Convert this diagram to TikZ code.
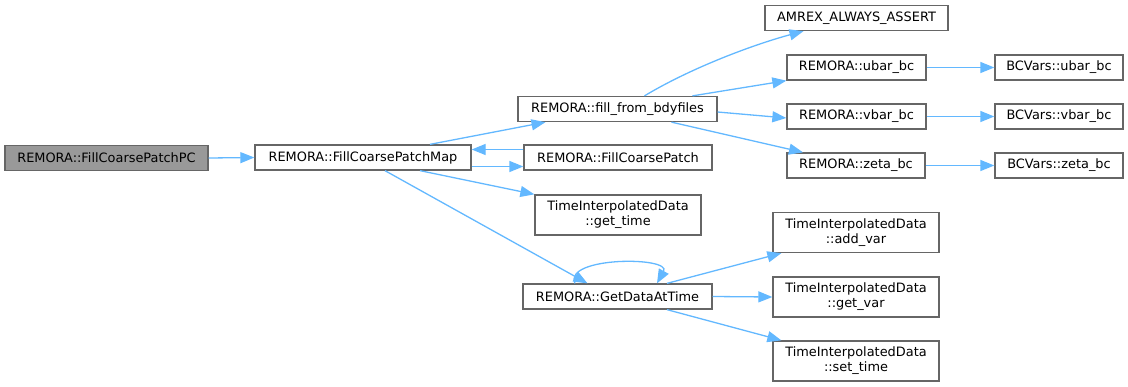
\documentclass[tikz,border=0pt]{standalone}
\usepackage{fontspec}
\setmainfont{DejaVu Sans}
\usetikzlibrary{arrows.meta,calc}
\definecolor{edgeblue}{HTML}{63B8FF}
\definecolor{boxborder}{HTML}{666666}
\definecolor{boxfill}{HTML}{999999}
\tikzset{
  fbox/.style={draw=boxborder, line width=1.3pt, fill=white, inner sep=0pt,
    minimum height=25pt, align=center, font=\fontsize{12.9}{15}\selectfont},
  tbox/.style={fbox, minimum height=40pt},
  conn/.style={draw=edgeblue, line width=1.3pt, -{Triangle[length=14pt,width=11pt]}}
}
\begin{document}
\begin{tikzpicture}[x=1pt,y=-1pt]
\useasboundingbox (0,0) rectangle (1128,386);
\node[fbox, fill=boxfill, minimum width=203pt] (pc) at (106.5,158) {REMORA::FillCoarsePatchPC};
\node[fbox, minimum width=216pt] (map) at (363,157.5) {REMORA::FillCoarsePatchMap};
\node[fbox, minimum width=199pt] (fill) at (617.5,109) {REMORA::fill\_from\_bdyfiles};
\node[fbox, minimum width=188pt] (fcp) at (618,157.5) {REMORA::FillCoarsePatch};
\node[tbox, minimum width=166pt] (gettime) at (618,215) {TimeInterpolatedData\\::get\_time};
\node[fbox, minimum width=189pt] (gdat) at (617.5,296.5) {REMORA::GetDataAtTime};
\node[fbox, minimum width=183pt] (amrex) at (856.5,18) {AMREX\_ALWAYS\_ASSERT};
\node[fbox, minimum width=139pt] (ubar) at (856.5,67.5) {REMORA::ubar\_bc};
\node[fbox, minimum width=139pt] (vbar) at (856.5,116.5) {REMORA::vbar\_bc};
\node[fbox, minimum width=138pt] (zeta) at (856,165.5) {REMORA::zeta\_bc};
\node[fbox, minimum width=128pt] (bcu) at (1059,67.5) {BCVars::ubar\_bc};
\node[fbox, minimum width=128pt] (bcv) at (1059,116.5) {BCVars::vbar\_bc};
\node[fbox, minimum width=128pt] (bcz) at (1059,165.5) {BCVars::zeta\_bc};
\node[tbox, minimum width=166pt] (addvar) at (856,232.5) {TimeInterpolatedData\\::add\_var};
\node[tbox, minimum width=166pt] (getvar) at (856,297) {TimeInterpolatedData\\::get\_var};
\node[tbox, minimum width=166pt] (settime) at (856,361) {TimeInterpolatedData\\::set\_time};

\draw[conn] (pc.east) -- (map.west);
\draw[conn] ([xshift=67pt]map.north) -- ([xshift=-72pt]fill.south);
\draw[conn] ([yshift=8pt]fcp.west) -- ([yshift=8pt]map.east);
\draw[conn] ([yshift=-9pt]map.east) -- ([yshift=-9pt]fcp.west);
\draw[conn] ([xshift=57pt]map.south) -- (gettime.north west);
\draw[conn] ([xshift=22pt]map.south) -- ([xshift=-30pt]gdat.north);
\draw[conn] ([xshift=27pt]fill.north) .. controls +(50,-30) and +(-45,12) .. ([xshift=-53pt]amrex.south);
\draw[conn] ([xshift=75pt]fill.north) -- (ubar.south west);
\draw[conn] ([yshift=-3pt]fill.east) -- ([yshift=-1.5pt]vbar.west);
\draw[conn] ([xshift=54pt]fill.south) -- ([xshift=-53pt]zeta.north);
\draw[conn] (ubar.east) -- (bcu.west);
\draw[conn] (vbar.east) -- (bcv.west);
\draw[conn] (zeta.east) -- (bcz.west);
\draw[conn] ([xshift=-42.5pt]gdat.north) .. controls +(-12,-27) and +(15,-27) .. ([xshift=39.5pt]gdat.north);
\draw[conn] ([xshift=49.5pt]gdat.north) -- ([xshift=9pt]addvar.south west);
\draw[conn] (gdat.east) -- (getvar.west);
\draw[conn] ([xshift=49.5pt]gdat.south) -- ([xshift=9pt]settime.north west);
\end{tikzpicture}
\end{document}
